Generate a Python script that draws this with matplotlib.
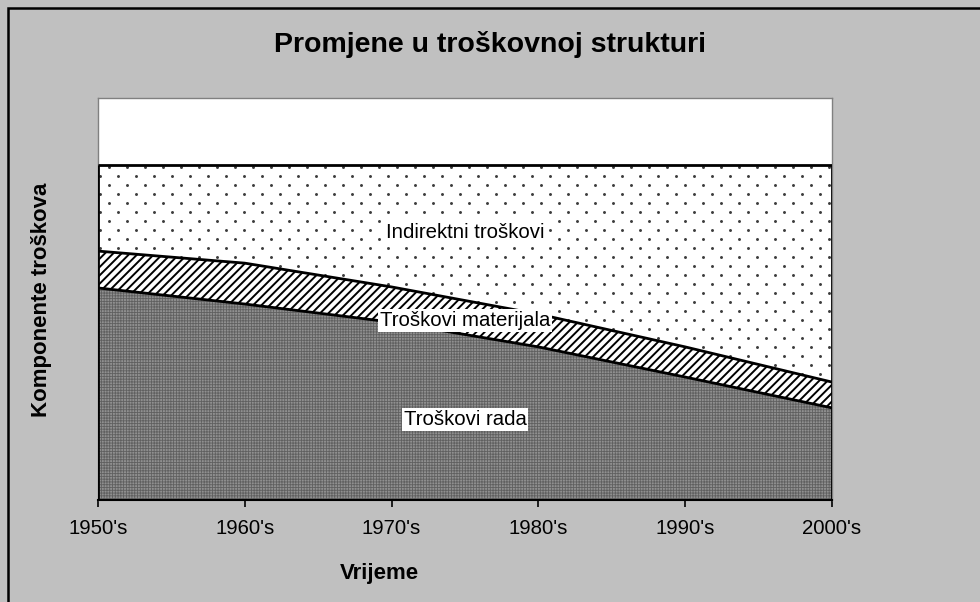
import matplotlib
matplotlib.use("Agg")
import matplotlib.pyplot as plt
import matplotlib.patches as mpatches
from matplotlib.path import Path
import numpy as np

plt.rcParams['font.family'] = ['Liberation Sans', 'DejaVu Sans']

categories = ["1950's", "1960's", "1970's", "1980's", "1990's", "2000's"]
troskovi_rada = [63.3, 58.5, 53.1, 45.7, 36.7, 27.5]
troskovi_materijala = [11.0, 12.2, 10.5, 9.8, 9.0, 7.7]
indirektni_troskovi = [25.7, 29.3, 36.4, 44.5, 54.3, 64.8]

W, H = 980, 602
fig = plt.figure(figsize=(W / 100, H / 100), dpi=100)
fig.patch.set_facecolor('#c0c0c0')

# figure border
border = mpatches.Rectangle((8 / W, -0.1), 1.2, 1 - 8 / H + 0.1, transform=fig.transFigure,
                            fill=False, edgecolor='black', linewidth=1.8, zorder=10)
fig.patches.append(border)

ax = fig.add_axes([98 / W, (H - 500) / H, (832 - 98) / W, (500 - 98) / H])
ax.set_facecolor('white')

x = np.arange(len(categories))
r = np.array(troskovi_rada)
m = r + np.array(troskovi_materijala)
t = m + np.array(indirektni_troskovi)

ax.set_xlim(x[0], x[-1])
ax.set_ylim(0, 120)

plt.rcParams['hatch.linewidth'] = 0.6
ax.fill_between(x, 0, r, facecolor='#909090', edgecolor='#606060', hatch='++++++', linewidth=0, zorder=1)
plt.rcParams['hatch.linewidth'] = 1.4
ax.fill_between(x, r, m, facecolor='white', edgecolor='black', hatch='////', linewidth=0, zorder=1)
ind = ax.fill_between(x, m, t, facecolor='white', edgecolor='none', linewidth=0, zorder=1)

# dotted texture for the indirect-cost area, clipped to its polygon
px_x = (x[-1] - x[0]) / 734.0
px_y = 120 / 402.0
dots_x, dots_y = [], []
row = 0
yy = 0.0
while yy <= 120:
    off = 0 if row % 2 == 0 else 9 * px_x
    xs = np.arange(x[0] + off + 2 * px_x, x[-1], 18 * px_x)
    dots_x.extend(xs)
    dots_y.extend([yy] * len(xs))
    yy += 9 * px_y
    row += 1
sc = ax.scatter(dots_x, dots_y, s=4.5, color='#3c3c3c', marker='o', linewidths=0, zorder=2)
poly_verts = np.concatenate([np.column_stack([x, m]), np.column_stack([x[::-1], t[::-1]])])
clip = mpatches.PathPatch(Path(poly_verts), transform=ax.transData, facecolor='none', edgecolor='none')
ax.add_patch(clip)
sc.set_clip_path(clip)

for y in (r, m, t):
    ax.plot(x, y, color='black', linewidth=2, zorder=3, solid_capstyle='butt')
ax.vlines([x[0], x[-1]], 0, [t[0], t[-1]], color='black', linewidth=2, zorder=3)

ax.set_yticks([])
ax.set_xticks(x)
ax.set_xticklabels(categories, fontsize=14.7)
ax.tick_params(axis='x', direction='out', length=5, width=1.2, pad=9, colors='black')

for s in ('top', 'right', 'left'):
    ax.spines[s].set_color('#808080')
    ax.spines[s].set_linewidth(1)
ax.spines['bottom'].set_color('black')
ax.spines['bottom'].set_linewidth(1.5)

lbl_kw = dict(fontsize=14.7, ha='center', va='center', zorder=5,
              bbox=dict(facecolor='white', edgecolor='none', pad=1.5))
ax.text(2.5, 80, 'Indirektni troškovi', **lbl_kw)
ax.text(2.5, 53.5, 'Troškovi materijala', **lbl_kw)
ax.text(2.5, 24, 'Troškovi rada', **lbl_kw)

fig.text(490 / W, 1 - 45 / H, 'Promjene u troškovnoj strukturi', fontsize=20.5, fontweight='bold',
         ha='center', va='center')
fig.text(379 / W, 1 - 574 / H, 'Vrijeme', fontsize=16, fontweight='bold', ha='center', va='center')
fig.text(42 / W, 1 - 300 / H, 'Komponente troškova', fontsize=16, fontweight='bold',
         ha='center', va='center', rotation=90)

fig.savefig('out.png', dpi=100, facecolor=fig.get_facecolor())
